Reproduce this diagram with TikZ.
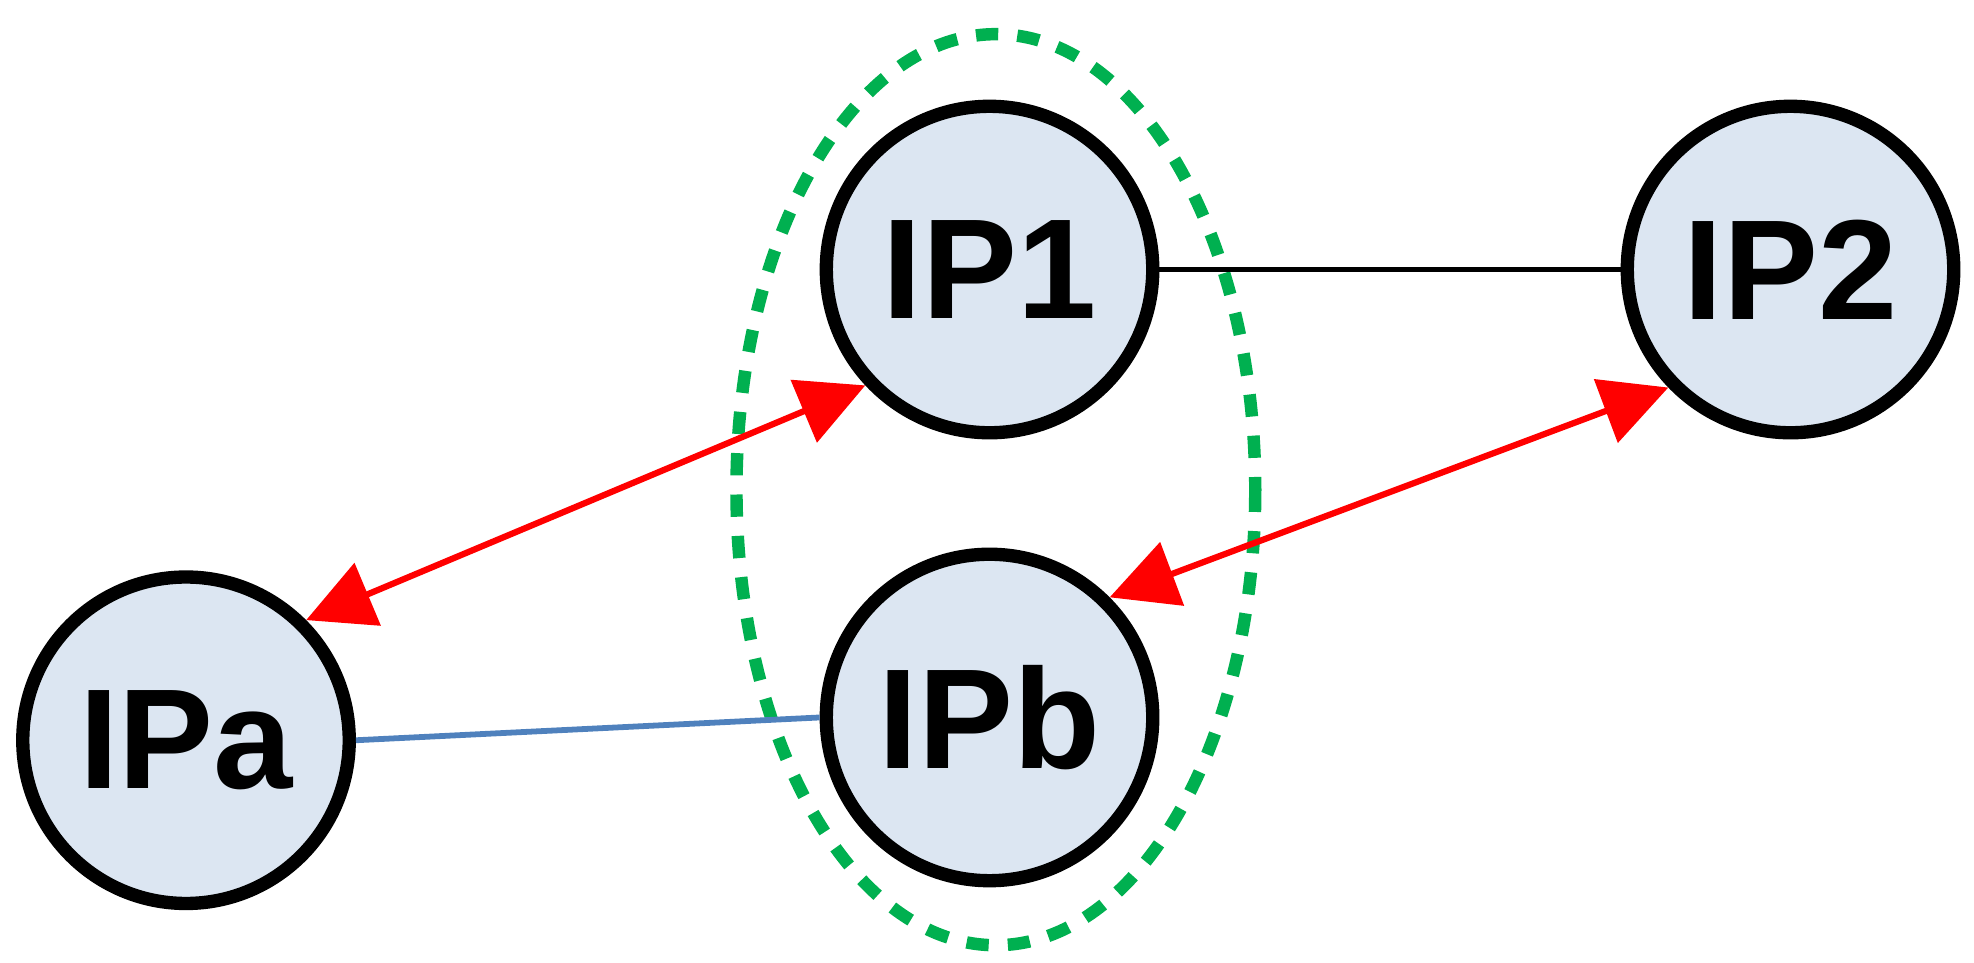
\documentclass[tikz,border=0pt]{standalone}
\usepackage{fontspec}
\setmainfont{Liberation Sans}
\usetikzlibrary{arrows.meta}
\definecolor{fillb}{RGB}{220,230,242}
\definecolor{gr}{RGB}{0,176,80}
\definecolor{bl}{RGB}{79,129,189}
\begin{document}
\begin{tikzpicture}[x=0.01cm,y=-0.01cm,
  ip/.style={circle,draw=black,line width=3pt,fill=fillb,minimum size=258*0.01cm,inner sep=0pt,font=\fontsize{32}{32}\selectfont\bfseries},
  red/.style={draw=red,line width=1.4pt,{Triangle[length=15pt,width=15pt]}-{Triangle[length=15pt,width=15pt]}}]
\useasboundingbox (0,0) rectangle (1560,761);
\node[ip] (ip1) at (782,213) {IP1};
\node[ip] (ip2) at (1415,213) {IP2};
\node[ip] (ipa) at (147,585) {IPa};
\node[ip] (ipb) at (782,567) {IPb};
\draw[gr,line width=2.8pt,dash pattern=on 5pt off 4.3pt] (787,387) ellipse [x radius=205,y radius=360];
\draw[line width=1.1pt] (ip1) -- (ip2);
\draw[bl,line width=1.3pt] (ipa.east) -- (ipb.west);
\draw[red] (ipa.45) -- (ip1.223);
\draw[red] (ipb.45) -- (ip2.224);
\end{tikzpicture}
\end{document}
